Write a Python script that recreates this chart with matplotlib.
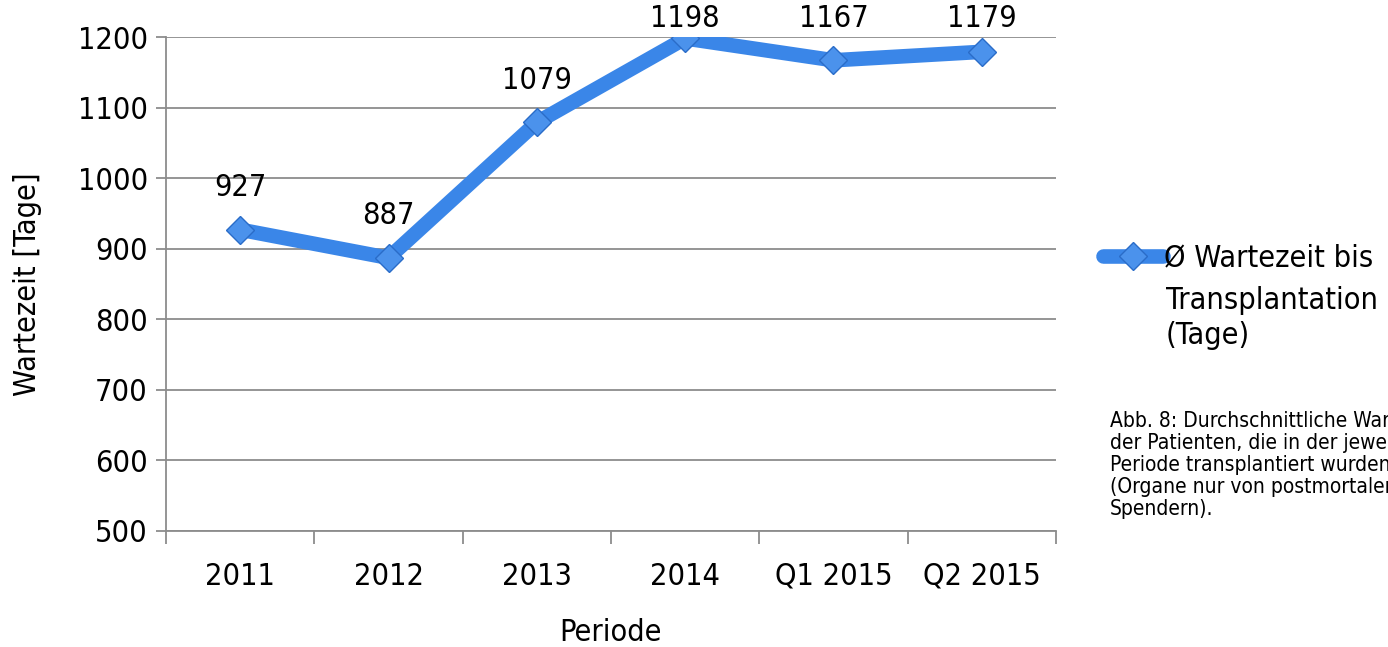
import matplotlib.pyplot as plt

periods = ["2011", "2012", "2013", "2014", "Q1 2015", "Q2 2015"]
wartezeit = [927, 887, 1079, 1198, 1167, 1179]
yticks = [500, 600, 700, 800, 900, 1000, 1100, 1200]

plt.rcParams["font.family"] = ["DejaVu Sans"]
plt.rcParams["font.stretch"] = "condensed"

blue = "#3a86e8"
grey = "#8c8c8c"
fs = 22

fig = plt.figure(figsize=(13.88, 6.47), dpi=100)
ax = fig.add_axes([0.1196, 0.1793, 0.6412, 0.7635])

x = list(range(len(periods)))
ax.plot(x, wartezeit, color=blue, lw=10.5, solid_capstyle="round", solid_joinstyle="round",
        marker="D", markersize=14, markerfacecolor="#4b92ec", markeredgecolor="#2a6cc8",
        markeredgewidth=1, label="Ø Wartezeit bis", zorder=3)

for xi, v in zip(x, wartezeit):
    ax.text(xi, min(v + 60, 1226), str(v), ha="center", va="center", fontsize=fs, clip_on=False)

ax.set_xlim(-0.5, len(periods) - 0.5)
ax.set_ylim(500, 1200)
ax.set_yticks(yticks)
ax.set_xticks([i - 0.5 for i in range(len(periods) + 1)])
ax.set_xticklabels([])
ax.set_xticks(x, minor=True)
ax.set_xticklabels(periods, minor=True)
ax.tick_params(axis="x", which="major", length=9, width=1.3, color=grey, direction="out")
ax.tick_params(axis="x", which="minor", length=0, pad=22, labelsize=fs)
ax.tick_params(axis="y", length=7, width=1.3, color=grey, labelsize=fs, pad=6)

ax.grid(axis="y", color=grey, lw=1.3)
ax.set_axisbelow(True)
for s in ["top", "right"]:
    ax.spines[s].set_visible(False)
for s in ["left", "bottom"]:
    ax.spines[s].set_color(grey)
    ax.spines[s].set_linewidth(1.3)

ax.set_ylabel("Wartezeit [Tage]", fontsize=fs, labelpad=26)
ax.set_xlabel("Periode", fontsize=fs, labelpad=20)

ax.legend(loc="center left", bbox_to_anchor=(1.053, 0.553), frameon=False, fontsize=fs,
          handlelength=1.95, handletextpad=0.05, borderaxespad=0, borderpad=0)
fig.text(0.840, 0.5085, "Transplantation\n(Tage)", fontsize=fs, ha="left", va="center",
         linespacing=1.22)

fig.text(0.7997, 0.281, "Abb. 8: Durchschnittliche Wartezeit\nder Patienten, die in der jeweiligen\n"
         "Periode transplantiert wurden\n(Organe nur von postmortalen\nSpendern).",
         fontsize=15, va="center", ha="left", linespacing=1.13)

fig.savefig("out.png", dpi=100)
